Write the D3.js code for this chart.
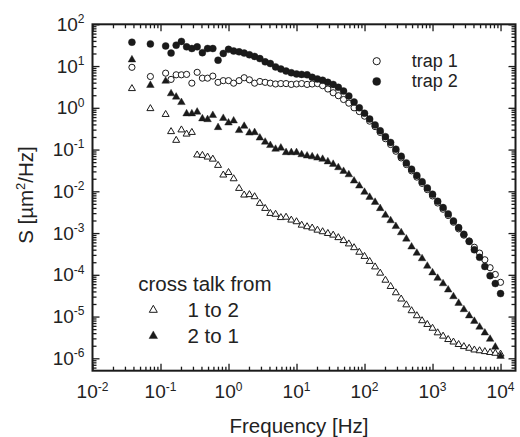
<!DOCTYPE html>
<html><head><meta charset="utf-8">
<script src="https://cdn.jsdelivr.net/npm/d3@7/dist/d3.min.js"></script>
<style>
html,body{margin:0;padding:0;background:#fff;}
svg{display:block;font-family:"Liberation Sans",Arial,Helvetica,sans-serif;}
</style></head><body>
<svg id="chart" width="520" height="437"></svg>
<script>
// ---- data ----
const freq = [0.038, 0.071, 0.119, 0.143, 0.170, 0.203, 0.242, 0.289, 0.346, 0.413, 0.492, 0.588, 0.702, 0.838, 1.0,
  1.19, 1.43, 1.70, 2.03, 2.42, 2.89, 3.46, 4.12, 4.92, 5.88, 7.02, 8.38, 10,
  11.9, 14.3, 17.0, 20.3, 24.2, 28.9, 34.6, 41.2, 49.2, 58.8, 70.2, 83.8, 100,
  119, 143, 170, 203, 242, 289, 346, 412, 492, 588, 702, 838, 1000,
  1190, 1430, 1700, 2030, 2420, 2890, 3460, 4120, 4920, 5880, 7020, 8380, 10000];
const trap1 = [9.33, 5.62, 6.76, 4.79, 6.17, 6.17, 6.31, 3.89, 7.08, 5.13,
  5.13, 5.75, 4.07, 4.47, 4.47, 3.89, 4.47, 5.25, 4.68, 3.89,
  4.27, 4.07, 3.89, 3.72, 3.80, 3.80, 3.63, 3.72, 3.80, 3.63,
  3.72, 3.80, 3.39, 2.82, 2.29, 1.95, 1.58, 1.29, 1.00, 0.813,
  0.631, 0.479, 0.355, 0.257, 0.182, 0.132, 0.0912, 0.0631, 0.0437, 0.0309,
  0.0219, 0.0155, 0.0110, 0.00776, 0.00525, 0.00372, 0.00263, 0.00182, 0.00126, 8.91e-4,
  6.46e-4, 4.57e-4, 3.31e-4, 2.29e-4, 1.48e-4, 1.02e-4, 6.61e-5];
const trap2 = [37.2, 33.9, 30.2, 20.4, 31.6, 38.9, 28.8, 26.3, 28.8, 20.9,
  26.3, 26.3, 13.8, 20.0, 25.1, 22.9, 21.9, 20.4, 18.6, 17.0,
  15.1, 12.6, 11.5, 9.55, 8.51, 7.59, 6.92, 6.46, 6.31, 6.17,
  5.37, 4.90, 4.57, 4.07, 3.63, 3.09, 2.51, 1.91, 1.38, 1.00,
  0.741, 0.537, 0.389, 0.282, 0.204, 0.148, 0.102, 0.0692, 0.0479, 0.0339,
  0.0240, 0.0170, 0.0120, 0.00851, 0.00575, 0.00407, 0.00288, 0.00195, 0.00135, 9.33e-4,
  6.31e-4, 3.98e-4, 2.63e-4, 1.58e-4, 9.55e-5, 6.17e-5, 3.55e-5];
const cross12 = [2.95, 0.977, 0.708, 0.275, 0.170, 0.302, 0.240, 0.263, 0.0759, 0.0741,
  0.0676, 0.0603, 0.0427, 0.0251, 0.0288, 0.0204, 0.0120, 0.00832, 0.00851, 0.00759,
  0.00525, 0.00398, 0.00302, 0.00288, 0.00240, 0.00245, 0.00209, 0.00191, 0.00158, 0.00145,
  0.00135, 0.00120, 0.00110, 0.00100, 9.12e-4, 7.94e-4, 6.76e-4, 5.62e-4, 4.57e-4, 3.55e-4,
  2.82e-4, 2.14e-4, 1.58e-4, 1.12e-4, 7.59e-5, 5.37e-5, 3.80e-5, 2.69e-5, 1.95e-5, 1.41e-5,
  1.07e-5, 8.13e-6, 6.61e-6, 5.37e-6, 4.17e-6, 3.47e-6, 2.88e-6, 2.51e-6, 2.19e-6, 1.95e-6,
  1.78e-6, 1.62e-6, 1.55e-6, 1.48e-6, 1.41e-6, 1.35e-6, 1.29e-6];
const cross21 = [14.5, 3.55, 4.47, 2.24, 1.86, 1.38, 0.741, 0.741, 0.813, 0.562,
  0.537, 0.676, 0.347, 0.575, 0.447, 0.501, 0.295, 0.372, 0.257, 0.263,
  0.195, 0.155, 0.129, 0.105, 0.112, 0.0871, 0.0871, 0.0871, 0.0776, 0.0724,
  0.0692, 0.0646, 0.0603, 0.0525, 0.0457, 0.0380, 0.0309, 0.0257, 0.0182, 0.0138,
  0.00977, 0.00741, 0.00562, 0.00398, 0.00275, 0.00204, 0.00148, 0.00105, 7.41e-4, 4.79e-4,
  3.39e-4, 2.51e-4, 1.66e-4, 1.15e-4, 8.51e-5, 6.31e-5, 4.47e-5, 3.09e-5, 2.14e-5, 1.51e-5,
  1.07e-5, 7.94e-6, 5.75e-6, 4.17e-6, 2.95e-6, 1.91e-6, 1.15e-6];

const xMajorTicks = [1e-2, 1e-1, 1e0, 1e1, 1e2, 1e3, 1e4];
const xTickExps = ["-2", "-1", "0", "1", "2", "3", "4"];
const yMajorTicks = [1e2, 1e1, 1e0, 1e-1, 1e-2, 1e-3, 1e-4, 1e-5, 1e-6];
const yTickExps = ["2", "1", "0", "-1", "-2", "-3", "-4", "-5", "-6"];
const xTitle = "Frequency [Hz]";
const yTitleParts = ["S [\u00B5m", "2", "/Hz]"];
const trapLegend = ["trap 1", "trap 2"];
const crossTitle = "cross talk from";
const crossLegend = ["1 to 2", "2 to 1"];

// ---- layout ----
const plot = {left: 92.5, right: 515.5, top: 24.3, bottom: 370.7};
const xDomain = [1e-2, 1.66e4];
const yDomain = [5.05e-7, 100];
const ink = "#1a1a1a";

const svg = d3.select("#chart");
svg.append("rect").attr("width", 520).attr("height", 437).attr("fill", "#fff");

const x = d3.scaleLog().domain(xDomain).range([plot.left, plot.right]);
const y = d3.scaleLog().domain(yDomain).range([plot.bottom, plot.top]);

function minorTicks(dom, d0, d1) {
  const out = [];
  for (let d = d0; d <= d1; d++) for (let k = 2; k <= 9; k++) {
    const v = k * Math.pow(10, d);
    if (v > dom[0] && v < dom[1]) out.push(v);
  }
  return out;
}
const xMinor = minorTicks(xDomain, -2, 4);
const yMinor = minorTicks(yDomain, -7, 1);

function styleAxis(g) {
  g.select(".domain").remove();
  g.selectAll(".tick line").attr("stroke", ink).attr("stroke-width", 1.3);
  g.selectAll(".tick text").remove();
}
const majLen = 7, minLen = 4;
[[d3.axisBottom, plot.bottom], [d3.axisTop, plot.top]].forEach(([ax, pos]) => {
  svg.append("g").attr("transform", `translate(0,${pos})`)
    .call(ax(x).tickValues(xMajorTicks).tickSizeInner(-majLen).tickSizeOuter(0)).call(styleAxis);
  svg.append("g").attr("transform", `translate(0,${pos})`)
    .call(ax(x).tickValues(xMinor).tickSizeInner(-minLen).tickSizeOuter(0)).call(styleAxis);
});
[[d3.axisLeft, plot.left], [d3.axisRight, plot.right]].forEach(([ax, pos]) => {
  svg.append("g").attr("transform", `translate(${pos},0)`)
    .call(ax(y).tickValues(yMajorTicks).tickSizeInner(-majLen).tickSizeOuter(0)).call(styleAxis);
  svg.append("g").attr("transform", `translate(${pos},0)`)
    .call(ax(y).tickValues(yMinor).tickSizeInner(-minLen).tickSizeOuter(0)).call(styleAxis);
});

// frame
svg.append("rect").attr("x", plot.left).attr("y", plot.top)
  .attr("width", plot.right - plot.left).attr("height", plot.bottom - plot.top)
  .attr("fill", "none").attr("stroke", ink).attr("stroke-width", 2);

// tick labels
const tickFont = 19, supFont = 12, supRise = 7.6;
const xl = svg.append("g").attr("fill", "#222").attr("font-size", tickFont);
xMajorTicks.forEach((v, i) => {
  const t = xl.append("text").attr("x", x(v)).attr("y", plot.bottom + 27.6).attr("text-anchor", "middle");
  t.append("tspan").text("10");
  t.append("tspan").attr("dy", -supRise).attr("font-size", supFont).text(xTickExps[i]);
});
const yl = svg.append("g").attr("fill", "#222").attr("font-size", tickFont);
yMajorTicks.forEach((v, i) => {
  const t = yl.append("text").attr("x", plot.left - 8).attr("y", y(v) + 6.5).attr("text-anchor", "end");
  t.append("tspan").text("10");
  t.append("tspan").attr("dy", -supRise).attr("font-size", supFont).text(yTickExps[i]);
});

// axis titles
svg.append("text").attr("x", 299).attr("y", 433).attr("text-anchor", "middle")
  .attr("font-size", 20.5).attr("fill", "#222").text(xTitle);
const yt = svg.append("text").attr("transform", "translate(33,195) rotate(-90)")
  .attr("text-anchor", "middle").attr("font-size", 20.5).attr("fill", "#222");
yt.append("tspan").text(yTitleParts[0]);
yt.append("tspan").attr("dy", -8).attr("font-size", 13).text(yTitleParts[1]);
yt.append("tspan").attr("dy", 8).text(yTitleParts[2]);

// markers
const triPath = (w, h) => `M0,${-h * 0.6}L${w / 2},${h * 0.4}L${-w / 2},${h * 0.4}Z`;
const pts = arr => freq.map((f, i) => ({f, v: arr[i]}));
const R = 3.5;

function drawCircles(arr, open) {
  svg.append("g").selectAll("circle").data(pts(arr)).join("circle")
    .attr("cx", d => x(d.f)).attr("cy", d => y(d.v)).attr("r", open ? R - 0.4 : R)
    .attr("fill", open ? "#fff" : ink).attr("stroke", ink).attr("stroke-width", open ? 1 : 0.4);
}
function drawTris(arr, open) {
  svg.append("g").selectAll("path").data(pts(arr)).join("path")
    .attr("transform", d => `translate(${x(d.f)},${y(d.v)})`)
    .attr("d", open ? triPath(7, 6) : triPath(7.6, 6.6))
    .attr("fill", open ? "#fff" : ink).attr("stroke", ink).attr("stroke-width", open ? 1 : 0.4)
    .attr("stroke-linejoin", "miter");
}
drawCircles(trap1, true);
drawCircles(trap2, false);
drawTris(cross12, true);
drawTris(cross21, false);

// legends
const lg = svg.append("g").attr("fill", "#222");
[[true, 61.2, 67.2], [false, 81.4, 87.4]].forEach(([open, cy, by], i) => {
  lg.append("circle").attr("cx", 376.7).attr("cy", cy).attr("r", open ? 3.6 : 4)
    .attr("fill", open ? "#fff" : ink).attr("stroke", ink).attr("stroke-width", open ? 1 : 0.4);
  lg.append("text").attr("x", 411.7).attr("y", by).attr("font-size", 18).text(trapLegend[i]);
});
lg.append("text").attr("x", 138.3).attr("y", 290.5).attr("font-size", 20.5).text(crossTitle);
[[true, 309.5, 316.7], [false, 335.5, 342.7]].forEach(([open, cy, by], i) => {
  lg.append("path").attr("transform", `translate(153.3,${cy})`)
    .attr("d", open ? triPath(8, 7) : triPath(8.6, 7.6))
    .attr("fill", open ? "#fff" : ink).attr("stroke", ink).attr("stroke-width", open ? 1 : 0.4);
  lg.append("text").attr("x", 187.5).attr("y", by).attr("font-size", 20.5).text(crossLegend[i]);
});
</script>
</body></html>
